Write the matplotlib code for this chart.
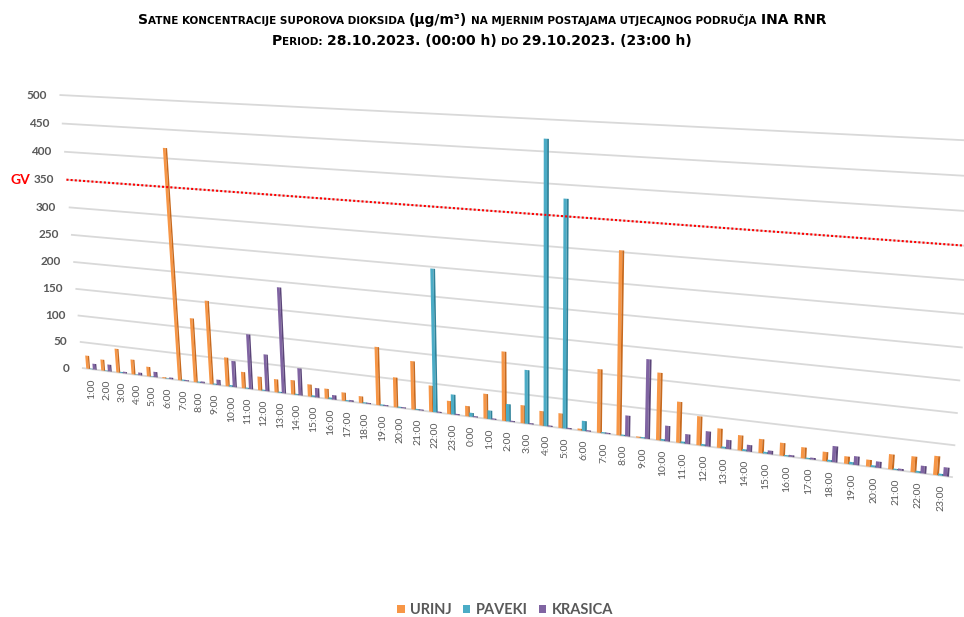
import numpy as np
import matplotlib
matplotlib.use("Agg")
import matplotlib.pyplot as plt
import matplotlib.transforms as mtransforms

# satne vrijednosti SO2, 28.10.2023. 1:00 -> 29.10.2023. 23:00
hours = [f"{h}:00" for h in range(1, 24)] + [f"{h}:00" for h in range(0, 24)]

urinj = [25, 21, 45, 28, 18, 2, 418, 118, 153, 53, 30, 25, 24, 26, 22, 18, 15, 12,
         103, 53, 85, 46, 23,
         18, 43, 119, 31, 25, 25, 3, 107, 303, 2, 112, 68, 48, 32, 25, 23, 21, 18,
         15, 12, 11, 24, 25, 30]
paveki = [1, 1, 2, 1, 1, 1, 2, 2, 2, 3, 2, 2, 2, 2, 3, 3, 2, 2, 2, 2, 2, 247, 35,
          7, 15, 30, 92, 470, 378, 17, 2, 2, 2, 3, 3, 3, 3, 3, 3, 2, 2, 3, 4, 3,
          2, 3, 3]
krasica = [11, 13, 3, 5, 10, 3, 2, 3, 10, 48, 100, 67, 190, 49, 17, 8, 3, 2, 2, 2,
           2, 2, 2,
           2, 2, 2, 2, 2, 2, 2, 2, 35, 132, 26, 16, 25, 15, 11, 6, 3, 3, 26, 14, 10,
           3, 12, 14]

series = ["URINJ", "PAVEKI", "KRASICA"]
colors = ["#F79646", "#4BACC6", "#8064A2"]
dark = ["#C86A1E", "#2F8299", "#5B4579"]
gv = 350
yticks = list(range(0, 501, 50))

GRAY = "#595959"


# perspective of the 3d excel chart: (category, value) -> pixel
def homography(src, dst):
    A, b = [], []
    for (u, v), (x, y) in zip(src, dst):
        A.append([u, v, 1, 0, 0, 0, -u * x, -v * x])
        b.append(x)
        A.append([0, 0, 0, u, v, 1, -u * y, -v * y])
        b.append(y)
    h = np.linalg.solve(np.array(A, float), np.array(b, float))
    return np.append(h, 1).reshape(3, 3)


class Perspective(mtransforms.Transform):
    input_dims = 2
    output_dims = 2
    is_separable = False
    has_inverse = True

    def __init__(self, H):
        super().__init__()
        self.H = H

    def transform_non_affine(self, values):
        values = np.asarray(values, float)
        p = np.column_stack([values, np.ones(len(values))]) @ self.H.T
        return p[:, :2] / p[:, 2:3]

    def inverted(self):
        return Perspective(np.linalg.inv(self.H))


n = len(hours)
H = homography([(0, 0), (n - 1, 0), (0, 500), (n - 1, 500)],
               [(91.5, 369.2), (941, 475.7), (69.4, 95.5), (965.7, 140.3)])
u_min, u_max = -0.64, 46.52

fig = plt.figure(figsize=(9.64, 6.17), dpi=100)
ax = fig.add_axes([0, 0, 1, 1])
ax.set_xlim(0, 964)
ax.set_ylim(617, 0)
ax.set_autoscale_on(False)
ax.axis("off")
T = Perspective(H) + ax.transData

# grid on the back wall
for v in yticks:
    ax.plot([u_min, u_max], [v, v], color="#D9D9D9", lw=1.3, transform=T,
            zorder=1, solid_capstyle="butt")
    ax.annotate(str(v), xy=(u_min, v), xycoords=T, xytext=(-9, 0),
                textcoords="offset points", ha="right", va="center",
                fontsize=8.5, fontweight="bold", color=GRAY,
                family=["Lato", "DejaVu Sans"])

ax.plot([u_min, u_max], [gv, gv], color="red", lw=1.5, ls=(0, (1, 1)),
        transform=T, zorder=5)
ax.annotate("GV", xy=(u_min, gv), xycoords=T, xytext=(-26, 0),
            textcoords="offset points", ha="right", va="center",
            fontsize=10, fontweight="bold", color="red",
            family=["Lato", "DejaVu Sans"])

# bars: front face + darker side face
x = np.arange(n)
w = 0.26
offsets = [-0.22, 0.0, 0.22]
handles = []
for vals, name, c, d, off in zip([urinj, paveki, krasica], series, colors, dark, offsets):
    bc = ax.bar(x + off - 0.175 * w, vals, width=0.65 * w, color=c, lw=0,
                transform=T, zorder=3, label=name)
    ax.bar(x + off + 0.325 * w, vals, width=0.35 * w, color=d, lw=0,
           transform=T, zorder=3)
    handles.append(bc)

for i, lbl in enumerate(hours):
    ax.annotate(lbl, xy=(i, 0), xycoords=T, xytext=(0, -6.5),
                textcoords="offset points", ha="center", va="top", rotation=90,
                fontsize=7.5, color=GRAY, family=["Lato", "DejaVu Sans"])

ax.legend(handles=handles, loc="center", bbox_to_anchor=(0.524, 0.011),
          ncol=3, frameon=False, handlelength=0.5, handleheight=0.5,
          handletextpad=0.35, columnspacing=0.8,
          prop={"family": ["Lato", "DejaVu Sans"], "weight": "bold", "size": 10.5},
          labelcolor=GRAY)

# title in small caps, built from pieces
B, S = 10, 7.5
title_font = ["Liberation Sans Narrow", "DejaVu Sans"]
lines = [
    (24, [("S", B, 0), ("ATNE KONCENTRACIJE SUPOROVA DIOKSIDA", S, 4),
          ("(µg/m³)", B, 4), ("NA MJERNIM POSTAJAMA UTJECAJNOG PODRUČJA", S, 4),
          ("INA RNR", B, 4)]),
    (45, [("P", B, 0), ("ERIOD:", S, 4), ("28.10.2023. (00:00 h)", B, 4),
          ("DO", S, 4), ("29.10.2023. (23:00 h)", B, 0)]),
]
renderer = fig.canvas.get_renderer()
for ybase, pieces in lines:
    texts, widths, gaps = [], [], []
    for txt, size, gap in pieces:
        t = ax.text(0, ybase, txt, fontsize=size, fontweight="bold",
                    color="black", va="baseline", ha="left", family=title_font)
        texts.append(t)
        widths.append(t.get_window_extent(renderer).width)
        gaps.append(gap)
    total = sum(widths) + sum(gaps[:-1])
    xpos = 482 - total / 2
    for t, wd, gap in zip(texts, widths, gaps):
        t.set_x(xpos)
        xpos += wd + gap

fig.savefig("out.png", dpi=100)
